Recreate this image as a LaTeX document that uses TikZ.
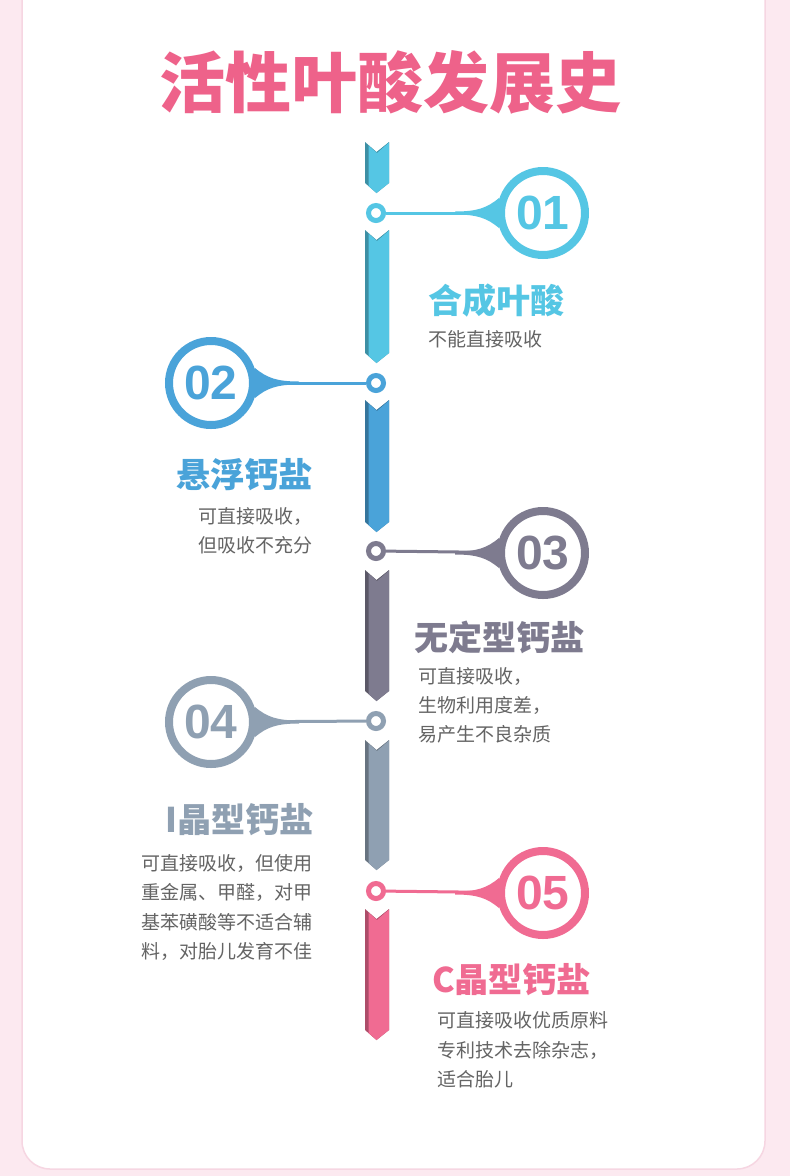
\documentclass[tikz,border=0pt]{standalone}
\usepackage{fontspec}
\usepackage{tikz}
\usetikzlibrary{calc,positioning}
\newfontfamily\cjk{Noto Sans CJK SC}
\newfontfamily\numf{Liberation Sans}
\definecolor{cBg}{RGB}{252,233,240}
\definecolor{cEdge}{RGB}{246,214,226}
\definecolor{cOne}{RGB}{85,198,228}
\definecolor{cTwo}{RGB}{74,163,217}
\definecolor{cThree}{RGB}{126,123,143}
\definecolor{cFour}{RGB}{143,160,178}
\definecolor{cFive}{RGB}{240,107,146}
\definecolor{cTitle}{RGB}{238,98,138}
\definecolor{cText}{RGB}{100,100,100}

\begin{document}
\begin{tikzpicture}[x=1pt,y=-1pt,
   dot/.style={circle,draw=#1,line width=5pt,fill=white,minimum size=15pt,inner sep=0pt},
   big/.style={circle,draw=#1,line width=8pt,fill=white,minimum size=84pt,inner sep=0pt,text=#1,
               font=\numf\bfseries\fontsize{48}{48}\selectfont},
   link/.style={line width=3pt},
   hd/.style={font=\cjk\bfseries\fontsize{34}{34}\selectfont,inner sep=0pt},
   tx/.style={font=\cjk\fontsize{19}{29.3}\selectfont,text=cText,align=left,inner sep=0pt},
   neck/.pic={\fill (-88,-1.5) .. controls (-66,-1.5) and (-56,-5) .. (-44,-15) -- (-40,0)
               -- (-44,15) .. controls (-56,5) and (-66,1.5) .. (-88,1.5) -- cycle;}]
  \useasboundingbox (0,0) rectangle (790,1176);
  \fill[cBg] (0,0) rectangle (790,1176);
  \filldraw[fill=white,draw=cEdge,line width=1.5pt,rounded corners=28pt] (22,-30) rectangle (765,1169);

  \node[font=\cjk\bfseries\fontsize{66}{66}\selectfont,text=cTitle,inner sep=0pt] (title) at (390,82) {活性叶酸发展史};

  % spine
  \foreach \t/\b/\c in {142/193/cOne,230/363/cOne,400/532/cTwo,570/701/cThree,740/870/cFour,909/1040/cFive}{
    \fill[\c!72!black] (365,\t) -- (376.5,\t+10) -- (389,\t) -- (389,\b-10) -- (376.5,\b) -- (365,\b-10) -- cycle;
    \fill[\c] (368.5,\t+3.5) -- (377,\t+11) -- (389,\t+0.5) -- (389,\b-10) -- (376.5,\b) -- (368.5,\b-7) -- cycle;
  }

  \node[dot=cOne]   (d1) at (376,213) {};
  \node[dot=cTwo]   (d2) at (376,383) {};
  \node[dot=cThree] (d3) at (376,551) {};
  \node[dot=cFour]  (d4) at (376,721) {};
  \node[dot=cFive]  (d5) at (376,891) {};

  \node[big=cOne]   (n1) at (543,213) {01};
  \node[big=cTwo]   (n2) at (211,383) {02};
  \node[big=cThree] (n3) at (543,553) {03};
  \node[big=cFour]  (n4) at (211,722) {04};
  \node[big=cFive]  (n5) at (543,893) {05};

  \draw[link,cOne] (d1) -- (n1);   \pic[cOne] at (n1.center) {neck};
  \draw[link,cTwo] (d2) -- (n2);   \pic[cTwo,xscale=-1] at (n2.center) {neck};
  \draw[link,cThree] (d3) -- (n3); \pic[cThree] at (n3.center) {neck};
  \draw[link,cFour] (d4) -- (n4);  \pic[cFour,xscale=-1] at (n4.center) {neck};
  \draw[link,cFive] (d5) -- (n5);  \pic[cFive] at (n5.center) {neck};

  % labels
  \node[hd,text=cOne,anchor=west] (h1) at (428,301) {合成叶酸};
  \node[tx,anchor=west] (t1) at (428,339) {不能直接吸收};
  \node[hd,text=cTwo,anchor=east] (h2) at (313,475) {悬浮钙盐};
  \node[tx,anchor=west] (t2) at (198,531) {可直接吸收，\\但吸收不充分};
  \node[hd,text=cThree,anchor=west] (h3) at (414,637) {无定型钙盐};
  \node[tx,anchor=west] (t3) at (418,705.5) {可直接吸收，\\生物利用度差，\\易产生不良杂质};
  \node[hd,text=cFour,anchor=east] (h4) at (314,820) {I晶型钙盐};
  \node[tx,anchor=west] (t4) at (141,907.5) {可直接吸收，但使用\\重金属、甲醛，对甲\\基苯磺酸等不适合辅\\料，对胎儿发育不佳};
  \node[hd,text=cFive,anchor=west] (h5) at (432,980) {C晶型钙盐};
  \node[tx,anchor=west] (t5) at (437,1050) {可直接吸收优质原料\\专利技术去除杂志，\\适合胎儿};
\end{tikzpicture}
\end{document}
